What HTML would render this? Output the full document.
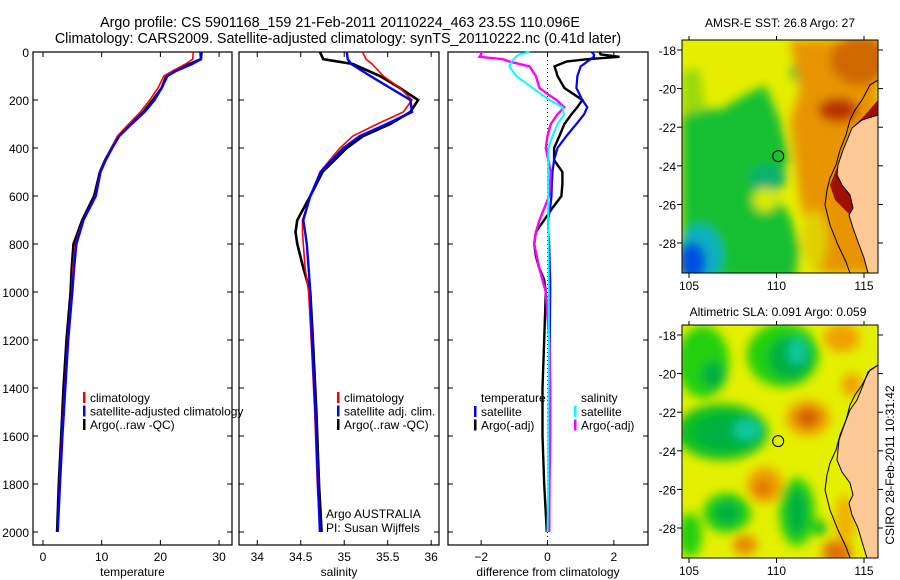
<!DOCTYPE html>
<html><head><meta charset="utf-8"><style>
html,body{margin:0;padding:0;background:#fff;}
svg{display:block;font-family:"Liberation Sans",sans-serif;}
</style></head><body>
<svg id="fig" width="900" height="580" viewBox="0 0 900 580" xmlns="http://www.w3.org/2000/svg">
<defs>
<filter id="blur" x="-50%" y="-50%" width="200%" height="200%"><feGaussianBlur stdDeviation="5"/></filter>
<clipPath id="clipTop"><rect x="682" y="40" width="196" height="233"/></clipPath>
<clipPath id="clipBot"><rect x="682" y="325" width="196" height="233"/></clipPath>
</defs>
<text x="340" y="27" font-size="14.3" text-anchor="middle">Argo profile: CS 5901168_159 21-Feb-2011 20110224_463 23.5S 110.096E</text>
<text x="338" y="43" font-size="14.3" text-anchor="middle">Climatology: CARS2009. Satellite-adjusted climatology: synTS_20110222.nc (0.41d later)</text>

<g id="sstmap">
<text x="780" y="27" font-size="12" text-anchor="middle">AMSR-E SST: 26.8 Argo: 27</text>
<g clip-path="url(#clipTop)">
<rect x="682" y="40" width="196" height="233" fill="#e6ee00"/>
<g filter="url(#blur)">
<polygon points="682,105 720,110 745,95 765,85 780,120 790,160 770,190 790,215 800,250 795,280 682,280" fill="#18c030"/>
<polygon points="682,70 700,70 705,110 682,115" fill="#9ad810"/>
<ellipse cx="768" cy="178" rx="18" ry="14" fill="#10b070"/>
<ellipse cx="700" cy="255" rx="22" ry="30" fill="#10b0c0"/>
<ellipse cx="692" cy="262" rx="14" ry="20" fill="#0050e0"/>
<ellipse cx="800" cy="72" rx="10" ry="10" fill="#20c030"/>
<ellipse cx="765" cy="200" rx="12" ry="12" fill="#d8ec00"/>
<polygon points="790,40 878,40 878,273 820,273 800,200 790,120 800,90" fill="#e89400"/>
<ellipse cx="860" cy="60" rx="30" ry="25" fill="#d06800"/>
<ellipse cx="838" cy="110" rx="20" ry="12" fill="#b83000"/>
<ellipse cx="815" cy="240" rx="12" ry="30" fill="#e0d000"/>
</g>
<polygon points="878,100 865,115 855,125 845,150 838,165 830,185 835,200 850,215 855,205 848,185 845,165 852,140 868,125 878,118" fill="#a01000"/>
<polygon points="878,115 862,120 852,128 848,138 843,150 838,165 837,175 842,185 850,195 853,208 849,215 853,228 858,242 864,258 868,273 878,273" fill="#fcc896"/>
<polyline points="878,80 870,85 862,100 855,110 850,120 846,135 840,150 836,165 830,178 827,190 825,205 830,225 838,245 846,262 850,273" fill="none" stroke="#000" stroke-width="1"/>
<polyline points="878,115 862,120 852,128 848,138 843,150 838,165 837,175 842,185 850,195 853,208 849,215 853,228 858,242 864,258 868,273" fill="none" stroke="#000" stroke-width="1"/>
</g>
<rect x="682" y="40" width="196" height="233" fill="none" stroke="#000" stroke-width="1"/>
<g id="sstTicks"></g>
</g>

<g id="slamap">
<text x="778" y="316" font-size="12" text-anchor="middle">Altimetric SLA: 0.091 Argo: 0.059</text>
<g clip-path="url(#clipBot)">
<rect x="682" y="325" width="196" height="233" fill="#e4f000"/>
<g filter="url(#blur)">
<ellipse cx="703" cy="362" rx="26" ry="36" fill="#20d010"/>
<ellipse cx="713" cy="375" rx="12" ry="14" fill="#00b040"/>
<ellipse cx="783" cy="355" rx="36" ry="32" fill="#20d010"/>
<ellipse cx="790" cy="358" rx="22" ry="22" fill="#00b040"/>
<ellipse cx="797" cy="352" rx="9" ry="13" fill="#10c8a0"/>
<ellipse cx="722" cy="432" rx="46" ry="28" fill="#10c020"/>
<ellipse cx="728" cy="432" rx="34" ry="18" fill="#00b040"/>
<ellipse cx="747" cy="430" rx="14" ry="10" fill="#10c8a0"/>
<ellipse cx="808" cy="418" rx="22" ry="18" fill="#f0a000"/>
<ellipse cx="808" cy="418" rx="12" ry="10" fill="#d06000"/>
<ellipse cx="765" cy="485" rx="18" ry="18" fill="#f0a000"/>
<ellipse cx="763" cy="488" rx="9" ry="9" fill="#e07800"/>
<ellipse cx="797" cy="512" rx="18" ry="34" fill="#20d010"/>
<ellipse cx="797" cy="512" rx="10" ry="24" fill="#00b040"/>
<ellipse cx="727" cy="513" rx="24" ry="20" fill="#20d010"/>
<ellipse cx="727" cy="513" rx="14" ry="12" fill="#00b040"/>
<ellipse cx="745" cy="545" rx="12" ry="10" fill="#e88800"/>
<ellipse cx="837" cy="552" rx="15" ry="12" fill="#e07000"/>
<ellipse cx="820" cy="528" rx="7" ry="8" fill="#10c020"/>
<ellipse cx="842" cy="338" rx="18" ry="14" fill="#f0a000"/>
<ellipse cx="852" cy="385" rx="10" ry="12" fill="#f0a000"/>
<ellipse cx="690" cy="535" rx="12" ry="22" fill="#20d010"/>
<ellipse cx="845" cy="520" rx="10" ry="25" fill="#f0b000"/>
</g>
<polygon points="878,385 866,400 855,410 848,422 852,428 862,418 878,405" fill="#30d020"/>
<polygon points="878,365 868,372 862,388 857,400 850,410 845,423 839,440 837,460 842,472 850,483 853,495 849,503 852,515 858,528 863,545 867,558 878,558" fill="#fcc896"/>
<polyline points="878,365 870,370 862,385 855,395 850,405 846,420 840,435 836,450 830,463 827,475 825,490 830,510 838,530 846,547 850,558" fill="none" stroke="#000" stroke-width="1"/>
<polyline points="878,365 868,372 862,388 857,400 850,410 845,423 839,440 837,460 842,472 850,483 853,495 849,503 852,515 858,528 863,545 867,558" fill="none" stroke="#000" stroke-width="1"/>
</g>
<rect x="682" y="325" width="196" height="233" fill="none" stroke="#000" stroke-width="1"/>
<g id="slaTicks"></g>
</g>
<text transform="translate(894,465) rotate(-90)" font-size="12" text-anchor="middle">CSIRO 28-Feb-2011 10:31:42</text>
<g id="plots"></g>
</svg>
<script>
// ---- temperature panel data ----
const tempDepth = [0,30,50,80,100,150,200,250,300,350,400,450,500,600,700,800,900,1000,1200,1400,1600,1800,2000];
const tempClim  = [25.6,25.5,24.3,22.0,20.6,19.6,18.2,16.6,14.6,12.7,11.6,10.6,9.7,8.9,6.8,5.5,5.1,4.9,4.2,3.7,3.2,2.8,2.5];
const tempSat   = [26.8,26.9,25.4,22.6,21.2,20.2,19.0,17.3,15.1,13.0,11.8,10.7,9.8,9.0,6.9,5.7,5.3,5.0,4.3,3.8,3.3,2.9,2.5];
const tempArgo  = [27.0,26.9,25.0,22.2,21.0,20.2,18.7,17.1,14.9,12.9,11.7,10.6,9.7,8.7,6.7,5.2,4.9,4.7,4.0,3.5,3.1,2.7,2.4];
// ---- salinity panel data ----
const salDepth = [0,30,50,100,150,200,250,300,350,400,500,600,700,750,800,900,1000,1200,1500,1800,2000];
const salClim  = [35.21,35.25,35.32,35.45,35.64,35.78,35.68,35.38,35.10,34.95,34.72,34.61,34.52,34.52,34.53,34.55,34.59,34.62,34.66,34.69,34.72];
const salSat   = [35.03,35.04,35.08,35.30,35.53,35.76,35.78,35.49,35.18,34.99,34.73,34.61,34.53,34.55,34.57,34.59,34.61,34.63,34.67,34.70,34.72];
const salArgo  = [34.72,34.76,35.10,35.41,35.64,35.85,35.76,35.53,35.22,35.03,34.75,34.61,34.46,34.44,34.46,34.53,34.61,34.64,34.68,34.71,34.74];
// ---- difference panel data ----
const dTdepth = [0,10,20,30,40,60,80,100,150,200,230,260,300,350,400,450,500,550,600,650,700,750,800,850,900,950,1000,1200,1400,1600,1800,2000];
const dTsat   = [1.33,1.4,1.4,1.3,1.2,1.0,0.95,0.9,0.87,1.05,1.2,1.1,0.87,0.57,0.3,0.2,0.15,0.13,0.12,0.08,0.02,0.03,0.05,0.06,0.07,0.08,0.08,0.07,0.06,0.05,0.05,0.05];
const dTargo  = [1.57,1.6,2.17,1.2,0.57,0.21,0.26,0.3,0.51,1.05,0.9,0.72,0.51,0.36,0.2,0.2,0.45,0.45,0.42,0.15,-0.1,-0.35,-0.4,-0.35,-0.25,-0.1,-0.05,-0.1,-0.15,-0.15,-0.1,-0.02];
const dSdepth = [0,10,20,30,40,60,80,100,150,180,200,230,260,300,350,400,500,600,700,750,800,900,1000,1200,1400,1600,1800,2000];
const dSsat   = [-0.54,-0.85,-0.95,-1.02,-1.08,-1.15,-1.05,-0.94,-0.45,-0.15,0.06,0.45,0.5,0.3,0.15,0.03,0.02,0.02,0.02,0.03,0.03,0.03,0.04,0.04,0.03,0.02,0.02,0.0];
const dSargo  = [-2.0,-2.0,-2.05,-1.35,-1.15,-0.54,-0.45,-0.35,-0.24,0.05,0.27,0.5,0.3,0.1,0.0,-0.05,0.1,0.05,-0.24,-0.35,-0.4,-0.25,-0.05,0.05,0.08,0.08,0.06,0.05];
// ---- tick labels ----
const depthTicks = [0,200,400,600,800,1000,1200,1400,1600,1800,2000];
const tempTicks = [0,10,20,30];
const salTicks = [34,34.5,35,35.5,36];
const diffTicks = [-2,0,2];
const latTicks = [-18,-20,-22,-24,-26,-28];
const lonTicks = [105,110,115];
const argoPos = [110.096,-23.5];

const NS='http://www.w3.org/2000/svg';
function mk(tag,attrs,parent,txt){const e=document.createElementNS(NS,tag);for(const k in attrs)e.setAttribute(k,attrs[k]);if(txt!==undefined)e.textContent=txt;parent.appendChild(e);return e;}
const plots=document.getElementById('plots');
const TOP=52, BOT=545;
const yD=d=>TOP+0.24*d;

function panel(name,x0,x1,xmin,xmax,ticks,label,showDepth){
  const g=mk('g',{},plots);
  
  
  const sx=v=>x0+(v-xmin)/(xmax-xmin)*(x1-x0);
  mk('rect',{x:x0,y:TOP,width:x1-x0,height:BOT-TOP,fill:'none',stroke:'#000','stroke-width':1.2},g);
  depthTicks.forEach(d=>{
    mk('line',{x1:x0,x2:x0+5,y1:yD(d),y2:yD(d),stroke:'#000'},g);
    mk('line',{x1:x1,x2:x1-5,y1:yD(d),y2:yD(d),stroke:'#000'},g);
    if(showDepth){const t=mk('text',{x:x0-4,y:yD(d)+5,'font-size':12,'text-anchor':'end'},g,String(d));
      
      }
  });
  ticks.forEach(v=>{
    mk('line',{x1:sx(v),x2:sx(v),y1:BOT,y2:BOT-5,stroke:'#000'},g);
    mk('line',{x1:sx(v),x2:sx(v),y1:TOP,y2:TOP+5,stroke:'#000'},g);
    const t=mk('text',{x:sx(v),y:BOT+16,'font-size':12,'text-anchor':'middle'},g,v<0?'\u2212'+(-v):String(v));
    
    
  });
  const lt=mk('text',{x:(x0+x1)/2,y:BOT+31,'font-size':12,'text-anchor':'middle'},g,label);
  
  
  return {g,sx};
}
function line(p,depths,vals,color,w,nm){
  const pts=depths.map((d,i)=>p.sx(vals[i]).toFixed(1)+','+yD(d).toFixed(1)).join(' ');
  const l=mk('polyline',{points:pts,fill:'none',stroke:color,'stroke-width':w,'stroke-linejoin':'miter'},p.g);
  
  
}
function legend(g,x,y,items){
  items.forEach((it,i)=>{
    const yy=y+i*13.5;
    mk('rect',{x:x,y:yy-10,width:2.5,height:11,fill:it[1]},g);
    const t=mk('text',{x:x+7,y:yy,'font-size':12},g,it[0]);
    
    
  });
}
// temperature
const pT=panel('temperature',33,232,-1.7,32.2,tempTicks,'temperature',true);
line(pT,tempDepth,tempArgo,'#000',2.6,'temp-argo-line');
line(pT,tempDepth,tempClim,'#f00',1.6,'temp-climatology-line');
line(pT,tempDepth,tempSat,'#00f',2.4,'temp-satellite-line');
legend(pT.g,83,402,[['climatology','#f00'],['satellite-adjusted climatology','#00f'],['Argo(..raw -QC)','#000']]);
// salinity
const pS=panel('salinity',239,439,33.79,36.09,salTicks,'salinity',false);
line(pS,salDepth,salArgo,'#000',2.6,'sal-argo-line');
line(pS,salDepth,salClim,'#f00',1.6,'sal-climatology-line');
line(pS,salDepth,salSat,'#00f',2.4,'sal-satellite-line');
legend(pS.g,337,402,[['climatology','#f00'],['satellite adj. clim.','#00f'],['Argo(..raw -QC)','#000']]);
let t1=mk('text',{x:326,y:518,'font-size':12},pS.g,'Argo AUSTRALIA');


let t2=mk('text',{x:326,y:532,'font-size':12},pS.g,'PI: Susan Wijffels');


// difference
const pD=panel('difference',448,648,-3,3.03,diffTicks,'difference from climatology',false);
mk('line',{x1:pD.sx(0),x2:pD.sx(0),y1:TOP,y2:BOT,stroke:'#000','stroke-dasharray':'1,3'},pD.g);
line(pD,dTdepth,dTargo,'#000',2.4,'diff-temp-argo-line');
line(pD,dTdepth,dTsat,'#00f',2.2,'diff-temp-satellite-line');
line(pD,dSdepth,dSargo,'#f0f',2.4,'diff-sal-argo-line');
line(pD,dSdepth,dSsat,'#0ff',2.0,'diff-sal-satellite-line');
let tt=mk('text',{x:481,y:402,'font-size':12},pD.g,'temperature');


legend(pD.g,474,416,[['satellite','#00f'],['Argo(-adj)','#000']]);
let ts=mk('text',{x:581,y:402,'font-size':12},pD.g,'salinity');


legend(pD.g,574,416,[['satellite','#0ff'],['Argo(-adj)','#f0f']]);

// map ticks
function mapTicks(gid,y0){
  const g=document.getElementById(gid);
  const lx=lon=>689+17.5*(lon-105);
  const ly=lat=>y0+10+19.3*(-18-lat);
  latTicks.forEach(l=>{
    mk('line',{x1:682,x2:677,y1:ly(l),y2:ly(l),stroke:'#000'},g);
    mk('line',{x1:878,x2:883,y1:ly(l),y2:ly(l),stroke:'#000'},g);
    const t=mk('text',{x:676,y:ly(l)+5,'font-size':12,'text-anchor':'end'},g,'-'+(-l));
    
    
  });
  lonTicks.forEach(l=>{
    mk('line',{x1:lx(l),x2:lx(l),y1:y0+233,y2:y0+238,stroke:'#000'},g);
    mk('line',{x1:lx(l),x2:lx(l),y1:y0,y2:y0-4,stroke:'#000'},g);
    const t=mk('text',{x:lx(l),y:y0+250,'font-size':12,'text-anchor':'middle'},g,String(l));
    
    
  });
  const c=mk('circle',{cx:lx(argoPos[0]),cy:ly(argoPos[1]),r:5.5,fill:'none',stroke:'#000','stroke-width':1},g);
  
  
}
mapTicks('sstTicks',40);
mapTicks('slaTicks',325);
</script>
</body></html>
